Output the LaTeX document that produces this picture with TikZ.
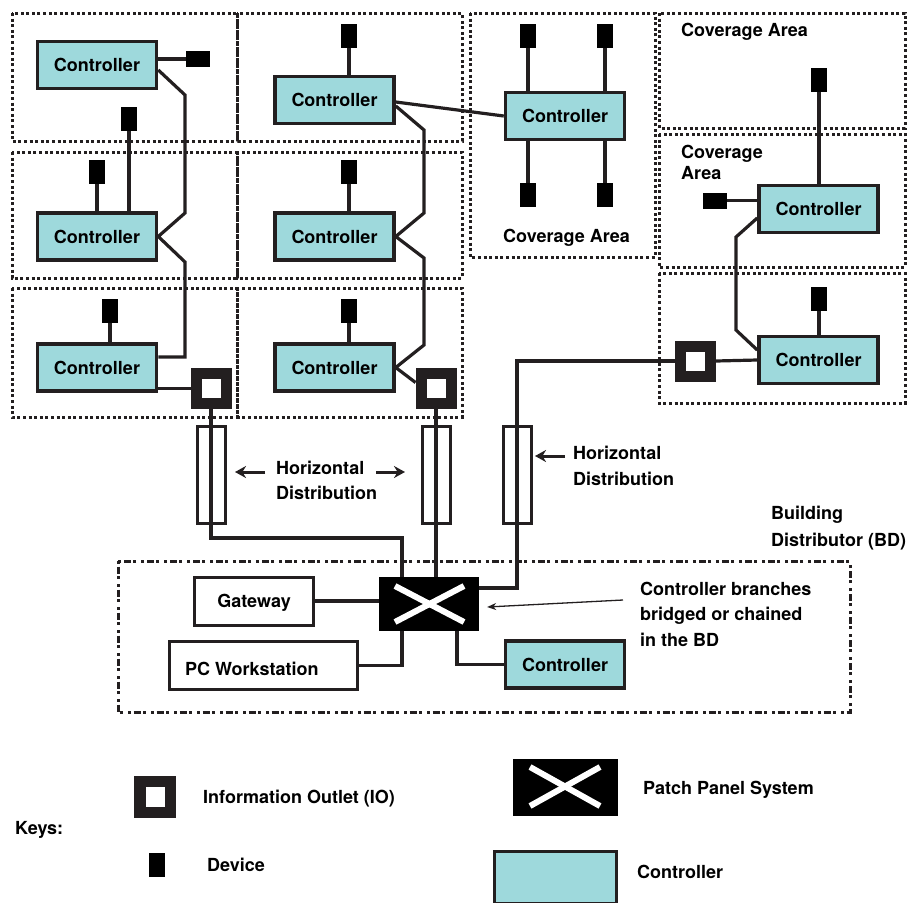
\documentclass[tikz,border=0pt]{standalone}
\usepackage{fontspec}
\setmainfont{TeX Gyre Heros}
\usetikzlibrary{arrows.meta,calc}
\definecolor{ink}{HTML}{231F20}
\definecolor{ctrlfill}{HTML}{9ED9DC}
\pgfdeclarelayer{bg}
\pgfsetlayers{bg,main}
\begin{document}
\begin{tikzpicture}[x=1pt,y=-1pt,
  txt/.style={font=\fontsize{18}{22}\selectfont\bfseries, inner sep=0pt, anchor=base west},
  ctrl/.style={draw=ink, line width=3.5pt, fill=ctrlfill, minimum width=119pt, minimum height=47pt, inner sep=0pt, font=\fontsize{18}{22}\selectfont\bfseries},
  dev/.style={fill=black, minimum width=16pt, minimum height=24pt, inner sep=0pt},
  devh/.style={fill=black, minimum width=24pt, minimum height=16pt, inner sep=0pt},
  io/.style={draw=ink, line width=11pt, fill=white, minimum size=30pt, inner sep=0pt},
  dpanel/.style={draw=ink, line width=3pt, minimum width=28pt, minimum height=97pt, inner sep=0pt},
  wbox/.style={draw=ink, line width=3pt, fill=white, minimum height=48pt, inner sep=0pt, text depth=0pt, font=\fontsize{18}{22}\selectfont\bfseries},
  ppanel/.style={fill=black, minimum width=100pt, minimum height=54pt, inner sep=0pt},
  wire/.style={draw=ink, line width=3.2pt},
  cov/.style={draw=ink, line width=3pt, dash pattern=on 3pt off 2.6pt},
  bdline/.style={draw=ink, line width=3pt, dash pattern=on 3pt off 2.5pt on 7pt off 2.5pt on 3pt off 5pt},
  xline/.style={draw=white, line width=6pt},
  harrow/.style={draw=ink, line width=3pt, -{Stealth[length=11pt,width=12pt]}},
]
\useasboundingbox (0,0) rectangle (915,902);

% ---------- controllers ----------
\node[ctrl] (C1) at (97,65) {Controller};
\node[ctrl] (C2) at (334.5,100) {Controller};
\node[ctrl] (C3) at (97,236.5) {Controller};
\node[ctrl] (C4) at (334.5,236.5) {Controller};
\node[ctrl] (C5) at (97,367.5) {Controller};
\node[ctrl] (C6) at (334.5,367.5) {Controller};
\node[ctrl] (C7) at (565,116) {Controller};
\node[ctrl] (C8) at (818.5,209) {Controller};
\node[ctrl] (C9) at (818.5,360) {Controller};
\node[ctrl] (C10) at (565,664.5) {Controller};

% ---------- devices ----------
\node[devh] (dC1) at (198,59) {};
\node[dev] (dC3a) at (129,119) {};
\node[dev] (dC3b) at (97,172) {};
\node[dev] (dC2) at (349,36) {};
\node[dev] (dC4) at (349,172) {};
\node[dev] (dC5) at (110,311) {};
\node[dev] (dC6) at (349,311) {};
\node[dev] (dC7a) at (528,36) {};
\node[dev] (dC7b) at (605,36) {};
\node[dev] (dC7c) at (528,195) {};
\node[dev] (dC7d) at (605,195) {};
\node[dev] (dC8a) at (819,80) {};
\node[devh] (dC8b) at (715,200.5) {};
\node[dev] (dC9) at (819,299) {};

% ---------- information outlets ----------
\node[io] (IO1) at (211,388.5) {};
\node[io] (IO2) at (436,388.5) {};
\node[io] (IO3) at (695.5,361) {};

% ---------- distribution panels ----------
\node[dpanel] (DP1) at (211,475) {};
\node[dpanel] (DP2) at (436,475) {};
\node[dpanel] (DP3) at (517,475) {};

% ---------- building distributor ----------
\node[ppanel] (PP) at (429,604) {};
\draw[xline] (395,586) -- (464,622);
\draw[xline] (395,622) -- (464,586);
\node[wbox, minimum width=119pt] (GW) at (254,601) {Gateway};
\node[wbox, minimum width=188pt] (PC) at (263.5,665.5) {};
\node[txt] (PCt) at (185,675) {PC Workstation};

% ---------- texts ----------
\node[txt] (cova) at (681,36.5) {Coverage Area};
\node[txt] (covb1) at (681,158.5) {Coverage};
\node[txt] (covb2) at (681,179.5) {Area};
\node[txt] (covc) at (503,242.5) {Coverage Area};
\node[txt] (hd1a) at (276,474.5) {Horizontal};
\node[txt] (hd1b) at (276,499.5) {Distribution};
\node[txt] (hd2a) at (573,459.5) {Horizontal};
\node[txt] (hd2b) at (573,485) {Distribution};
\node[txt] (bda) at (771,519.5) {Building};
\node[txt] (bdb) at (771,546.5) {Distributor (BD)};
\node[txt] (bra) at (640,595.5) {Controller branches};
\node[txt] (brb) at (640,620.5) {bridged or chained};
\node[txt] (brc) at (640,646.5) {in the BD};

% ---------- keys ----------
\node[io, line width=11.5pt, minimum width=30.5pt, minimum height=31pt] (kIO) at (155,797) {};
\node[dev] (kDev) at (157,865) {};
\node[ppanel, minimum width=105pt, minimum height=57pt] (kPP) at (565.5,787.5) {};
\draw[xline] (530,767) -- (600,806);
\draw[xline] (530,806) -- (600,767);
\node[ctrl, minimum width=122pt, minimum height=52pt] (kC) at (555.5,877.5) {};
\node[txt] (kkeys) at (15,834) {Keys:};
\node[txt] (kIOt) at (203,803.5) {Information Outlet (IO)};
\node[txt] (kDevt) at (207,871.5) {Device};
\node[txt] (kPPt) at (643,794.5) {Patch Panel System};
\node[txt] (kCt) at (637,878.5) {Controller};

% ---------- arrows ----------
\coordinate (ha1s) at (265,472);
\coordinate (ha1e) at (235,472);
\coordinate (ha2s) at (376,472);
\coordinate (ha2e) at (405,472);
\coordinate (ha3s) at (565,456);
\coordinate (ha3e) at (535,456);
\coordinate (brs) at (623,600);
\draw[harrow] (ha1s) -- (ha1e);
\draw[harrow] (ha2s) -- (ha2e);
\draw[harrow] (ha3s) -- (ha3e);
\draw[ink, line width=1.3pt, -{Stealth[length=9pt,width=7pt]}] (brs) -- ([xshift=8pt,yshift=-3pt]PP.east);

\begin{pgfonlayer}{bg}
% coverage areas
\draw[cov] (12,13) rectangle (237,141);
\draw[cov] (237,13) rectangle (462,141);
\draw[cov] (12,152) rectangle (237,278);
\draw[cov] (237,152) rectangle (462,278);
\draw[cov] (12,288) rectangle (237,417);
\draw[cov] (237,288) rectangle (462,417);
\draw[cov] (470,13) rectangle (655,257);
\draw[cov] (659,13) rectangle (905,128);
\draw[cov] (659,134) rectangle (905,267);
\draw[cov] (659,273) rectangle (905,403);
\draw[bdline] (118,561) rectangle (850,712);

% device links
\draw[wire] (dC1.west) -- (dC1.west -| C1.east);
\draw[wire] (dC3a.south) -- (dC3a.south |- C3.north);
\draw[wire] (dC3b.south) -- (dC3b.south |- C3.north);
\draw[wire] (dC2.south) -- (dC2.south |- C2.north);
\draw[wire] (dC4.south) -- (dC4.south |- C4.north);
\draw[wire] (dC5.south) -- (dC5.south |- C5.north);
\draw[wire] (dC6.south) -- (dC6.south |- C6.north);
\draw[wire] (dC7a.south) -- (dC7a.south |- C7.north);
\draw[wire] (dC7b.south) -- (dC7b.south |- C7.north);
\draw[wire] (dC7c.north) -- (dC7c.north |- C7.south);
\draw[wire] (dC7d.north) -- (dC7d.north |- C7.south);
\draw[wire] (dC8a.south) -- (dC8a.south |- C8.north);
\draw[wire] (dC8b.east) -- (dC8b.east -| C8.west);
\draw[wire] (dC9.south) -- (dC9.south |- C9.north);

% controller chains
\draw[wire] ([yshift=-5pt]C1.east) -- (185,95) -- (185,213) -- (C3.east) -- (185,262) -- (185,357) -- ([yshift=10.5pt]C5.east);
\draw[wire] (C5.east |- IO1.west) -- (IO1.west);
\draw[wire] ([yshift=-6pt]C2.east) -- (424,130) -- (424,213) -- (C4.east) -- (424,258) -- (424,345) -- (C6.east) -- ([yshift=6pt]IO2.west);
\draw[wire] ([yshift=-2pt]C2.east) -- (C7.west);
\draw[wire] ([yshift=-9pt]C8.west) -- (736,237) -- (736,330) -- ([yshift=10pt]C9.west);
\draw[wire] (C9.west) -- (IO3.east);

% horizontal distribution
\draw[wire] (IO1.south) -- (211,538) -| ([xshift=-27pt]PP.north);
\draw[wire] (IO2.south) -- (IO2.south |- PP.north);
\draw[wire] (IO3.west) -- (517,361) -- (517,588) -- ([yshift=16pt]PP.east);

% BD links
\draw[wire] (GW.east) -- (GW.east -| PP.west);
\draw[wire] (PC.east) -| ([xshift=-27pt]PP.south);
\draw[wire] ([xshift=28pt]PP.south) |- (C10.west);
\end{pgfonlayer}
\end{tikzpicture}
\end{document}
